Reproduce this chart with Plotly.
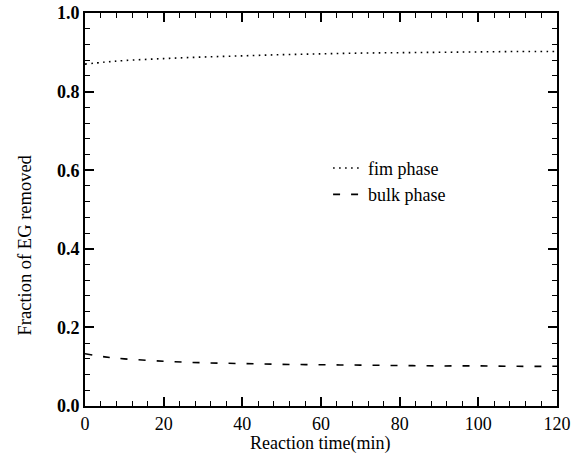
import plotly.graph_objects as go

# Reaction time (min)
time_min = [0, 5, 10, 20, 30, 40, 50, 60, 70, 80, 90, 100, 110, 120]

# Fraction of EG removed in each phase
film_phase = [0.870, 0.875, 0.879, 0.884, 0.888, 0.891, 0.894, 0.896,
              0.898, 0.899, 0.900, 0.901, 0.902, 0.902]
bulk_phase = [0.133, 0.125, 0.120, 0.114, 0.110, 0.108, 0.106, 0.105,
              0.104, 0.103, 0.102, 0.102, 0.101, 0.101]

x_ticks = [0, 20, 40, 60, 80, 100, 120]
y_ticks = [0.0, 0.2, 0.4, 0.6, 0.8, 1.0]
y_tick_text = ["0.0", "0.2", "0.4", "0.6", "0.8", "1.0"]

SERIF = "Liberation Serif, Times New Roman, serif"

fig = go.Figure()
fig.add_trace(go.Scatter(
    x=time_min, y=film_phase, mode="lines", name="fim phase", legendgroup="film",
    line=dict(color="black", width=1.6, dash="1.6px,4.4px", shape="spline"),
))
fig.add_trace(go.Scatter(
    x=time_min, y=bulk_phase, mode="lines", name="bulk phase", legendgroup="bulk",
    line=dict(color="black", width=1.6, dash="7px,11px", shape="spline"),
))

axis_common = dict(
    showgrid=False, zeroline=False, automargin=False,
    showline=True, linecolor="black", linewidth=2, mirror="ticks",
    ticks="inside", ticklen=9, tickwidth=1.5, tickcolor="black",
)

fig.update_xaxes(
    range=[0, 120], tickvals=x_ticks,
    tickfont=dict(family=SERIF, size=18, color="black"),
    minor=dict(ticks="inside", dtick=4, ticklen=5, tickwidth=1.2, tickcolor="black"),
    **axis_common,
)
fig.update_yaxes(
    range=[0, 1.0], tickvals=y_ticks, ticktext=y_tick_text,
    tickfont=dict(family=SERIF, size=18, color="black", weight="bold"),
    minor=dict(ticks="inside", dtick=0.04, ticklen=5, tickwidth=1.2, tickcolor="black"),
    **axis_common,
)

fig.add_annotation(
    text="Reaction time(min)", xref="paper", yref="paper",
    x=0.498, y=-0.095, xanchor="center", yanchor="middle",
    showarrow=False, font=dict(family=SERIF, size=18, color="black"),
)
fig.add_annotation(
    text="Fraction of EG removed", xref="paper", yref="paper",
    x=-0.128, y=0.41, xanchor="center", yanchor="middle", textangle=-90,
    showarrow=False, font=dict(family=SERIF, size=18.5, color="black"),
)

fig.update_layout(
    width=574, height=453,
    margin=dict(l=85, r=17, t=13, b=47, autoexpand=False),
    paper_bgcolor="white", plot_bgcolor="white",
    showlegend=True,
    legend=dict(
        x=0.515, y=0.652, xanchor="left", yanchor="top",
        bgcolor="rgba(0,0,0,0)", borderwidth=0,
        font=dict(family=SERIF, size=18, color="black"),
        itemwidth=30, tracegroupgap=0,
    ),
)

fig.write_html("out.html")
